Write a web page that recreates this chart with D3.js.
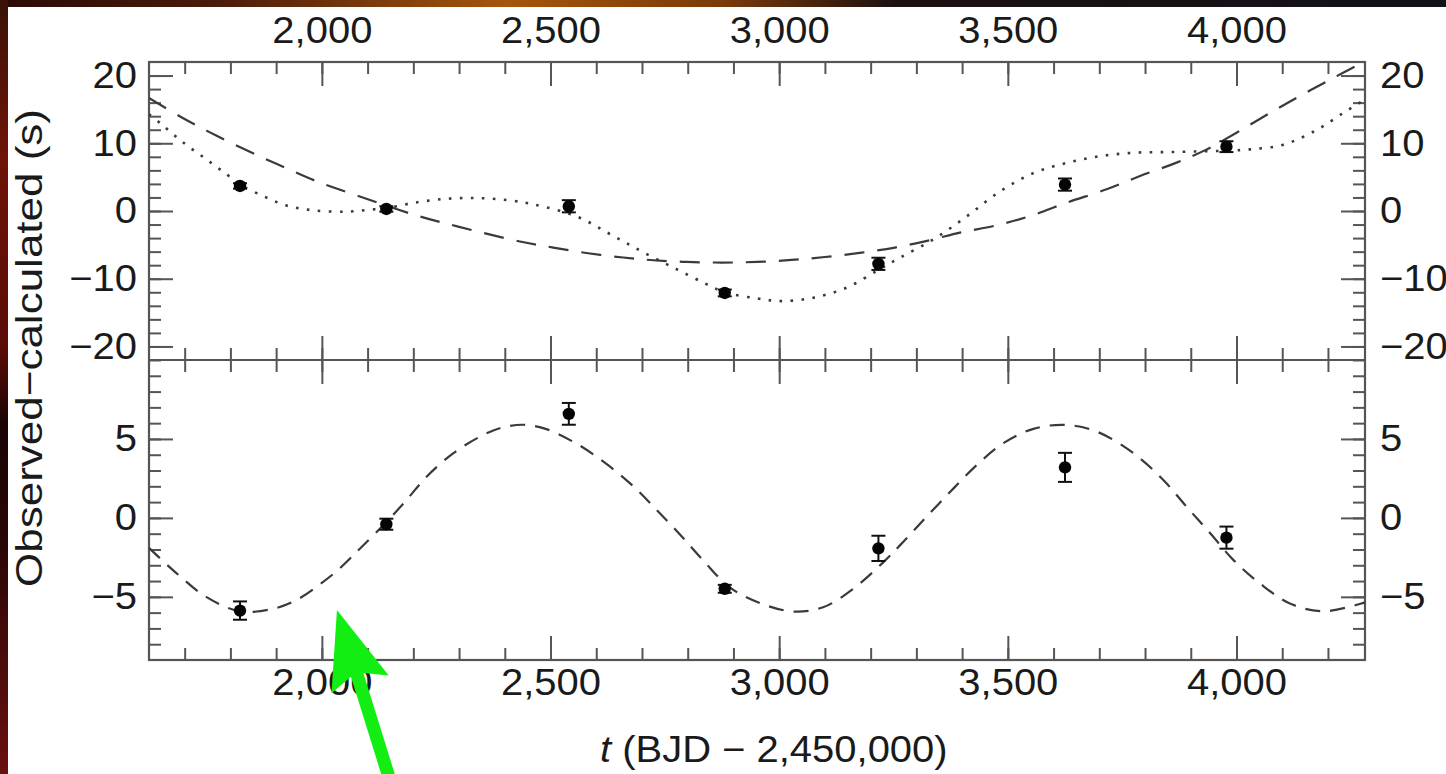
<!DOCTYPE html>
<meta charset="utf-8">
<style>
body { margin: 0; background: #fff; }
svg { display: block; font-family: "Liberation Sans", Arial, Helvetica, sans-serif; }
.axis text { font-size: 37px; fill: #1a1a1a; }
.axis line { stroke: #555; stroke-width: 2; }
.axis path { display: none; }
.frame { fill: none; stroke: #555; stroke-width: 2.2; }
</style>
<svg width="1446" height="774"></svg>
<script src="https://d3js.org/d3.v7.min.js"></script>
<script>

// ---- data ----
// epochs of the seven observed transits (BJD - 2,450,000)
var obsT = [1821, 2141, 2540, 2881, 3217, 3625, 3978];

// upper panel: O-C with linear ephemeris (s)
var topOC  = [3.7, 0.3, 0.7, -12.1, -7.8, 3.9, 9.5];
var topErr = [0.4, 0.4, 0.9, 0.5, 0.9, 0.9, 0.8];

// lower panel: residuals after removing the long trend (s)
var botOC  = [-5.87, -0.4, 6.59, -4.49, -1.93, 3.2, -1.25];
var botErr = [0.58, 0.35, 0.69, 0.25, 0.8, 0.92, 0.7];

// upper panel dashed model
var dashT = [1622, 1689, 1770, 1857, 1923, 1988, 2076, 2211, 2298, 2433, 2506, 2582, 2659, 2725, 2798, 2874,
             2951, 3027, 3100, 3180, 3253, 3330, 3395, 3476, 3549, 3629, 3716, 3789, 3869, 3935, 4001, 4074,
             4139, 4205, 4270, 4281];
var dashV = [16.7, 14.0, 11.1, 8.3, 6.3, 4.4, 2.3, -0.74, -2.3, -4.5, -5.4, -6.24, -6.87, -7.27, -7.52, -7.61,
             -7.52, -7.23, -6.79, -6.15, -5.4, -4.3, -3.2, -2.1, -0.74, 1.24, 3.2, 5.16, 7.14, 9.1, 11.6, 14.5,
             17.0, 19.4, 21.7, 22.0];

// upper panel dotted model
var dotT = [1622, 1653, 1697, 1748, 1792, 1821, 1872, 1923, 1981, 2054, 2105, 2141, 2200, 2273, 2346, 2418,
            2462, 2557, 2630, 2703, 2776, 2841, 2881, 2951, 3005, 3075, 3148, 3217, 3264, 3337, 3410, 3483,
            3556, 3629, 3702, 3775, 3848, 3920, 3980, 4030, 4103, 4176, 4234, 4274, 4281];
var dotV = [14.3, 12.6, 10.1, 7.6, 5.4, 3.9, 2.2, 0.8, 0.1, -0.1, 0.2, 0.4, 1.2, 1.8, 1.9, 1.5,
            1.0, -0.8, -3.4, -6.1, -8.6, -10.8, -12.0, -12.9, -13.3, -12.8, -11.3, -8.7, -6.9, -4.2, -0.8, 2.9,
            5.6, 7.1, 8.1, 8.6, 8.7, 8.8, 8.9, 9.1, 9.8, 12.0, 14.5, 16.2, 16.6];

// lower panel dashed model
var sineT = [1622, 1675, 1748, 1821, 1893, 1945, 1996, 2039, 2083, 2138, 2185, 2229, 2287, 2346, 2389, 2440,
             2491, 2557, 2623, 2681, 2732, 2783, 2834, 2892, 2958, 3031, 3096, 3162, 3228, 3264, 3315, 3374,
             3432, 3490, 3556, 3625, 3694, 3775, 3840, 3891, 3943, 3994, 4052, 4118, 4190, 4271, 4281];
var sineV = [-1.9, -3.32, -5.02, -5.91, -5.76, -5.19, -4.2, -3.2, -1.95, -0.36, 1.13, 2.61, 4.09, 5.15, 5.68, 5.9,
             5.62, 4.7, 3.4, 2.0, 0.5, -1.05, -2.7, -4.4, -5.4, -5.93, -5.66, -4.49, -2.80, -1.74, -0.15, 1.65,
             3.35, 4.73, 5.64, 5.89, 5.47, 4.09, 2.40, 0.70, -0.99, -2.69, -4.17, -5.44, -5.91, -5.44, -5.35];

var xMajor = [2000, 2500, 3000, 3500, 4000];
var topMajor = [-20, -10, 0, 10, 20];
var botMajor = [-5, 0, 5];

// ---- layout ----
var svg = d3.select("svg"),
    W = +svg.attr("width"), H = +svg.attr("height"),
    pLeft = 149, pRight = 1365, pTop = 62, pMid = 360, pBottom = 660;

var defs = svg.append("defs");
var gTop = defs.append("linearGradient").attr("id", "bandTop");
[["0%", "#2a0a06"], ["15%", "#4a1a0a"], ["35%", "#a5560c"], ["50%", "#7a3a08"], ["62%", "#1c1010"], ["100%", "#12121a"]]
  .forEach(function(s) { gTop.append("stop").attr("offset", s[0]).attr("stop-color", s[1]); });
var gLeft = defs.append("linearGradient").attr("id", "bandLeft").attr("x1", 0).attr("y1", 0).attr("x2", 0).attr("y2", 1);
[["0%", "#3a1206"], ["20%", "#6e1408"], ["45%", "#5a0c06"], ["55%", "#1a0404"], ["70%", "#2a0606"], ["100%", "#6a1010"]]
  .forEach(function(s) { gLeft.append("stop").attr("offset", s[0]).attr("stop-color", s[1]); });

svg.append("rect").attr("width", W).attr("height", 7).attr("fill", "url(#bandTop)");
svg.append("rect").attr("width", 8).attr("height", H).attr("fill", "url(#bandLeft)");
svg.append("rect").attr("x", 8).attr("y", 7).attr("width", W - 8).attr("height", H - 7).attr("fill", "#fff");

defs.append("clipPath").attr("id", "clipTop").append("rect")
    .attr("x", pLeft).attr("y", pTop).attr("width", pRight - pLeft).attr("height", pMid - pTop);
defs.append("clipPath").attr("id", "clipBot").append("rect")
    .attr("x", pLeft).attr("y", pMid).attr("width", pRight - pLeft).attr("height", pBottom - pMid);

var x = d3.scaleLinear().domain([1622, 4281]).range([pLeft, pRight]);
var yTop = d3.scaleLinear().domain([-22, 22]).range([pMid, pTop]);
var yBot = d3.scaleLinear().domain([-9, 10]).range([pBottom, pMid]);

function stretch(sel, f) {
  sel.each(function() {
    var w = this.getComputedTextLength();
    d3.select(this).attr("textLength", w * f).attr("lengthAdjust", "spacingAndGlyphs");
  });
}

function axis(gen, scale, tx, ty, values, size, pad, labels) {
  var a = gen(scale).tickValues(values).tickSizeInner(-size).tickSizeOuter(0).tickPadding(pad)
      .tickFormat(labels ? d3.format(",") : function() { return ""; });
  var g = svg.append("g").attr("class", "axis")
      .attr("transform", "translate(" + tx + "," + ty + ")").call(a);
  g.attr("font-family", null).attr("font-size", null);
  if (labels) stretch(g.selectAll("text"), 1.08);
  return g;
}

var xMinor = d3.range(1700, 4300, 100);
// upper panel frame ticks
axis(d3.axisTop, x, 0, pTop, xMinor, 12, 0, false);
axis(d3.axisTop, x, 0, pTop, xMajor, 24, 19, true);
axis(d3.axisBottom, x, 0, pMid, xMinor, 12, 0, false);
axis(d3.axisBottom, x, 0, pMid, xMajor, 24, 0, false);
axis(d3.axisLeft, yTop, pLeft, 0, d3.range(-20, 22, 2), 12, 0, false);
axis(d3.axisLeft, yTop, pLeft, 0, topMajor, 24, 12, true);
axis(d3.axisRight, yTop, pRight, 0, d3.range(-20, 22, 2), 12, 0, false);
axis(d3.axisRight, yTop, pRight, 0, topMajor, 24, 15, true);
// lower panel frame ticks
axis(d3.axisTop, x, 0, pMid, xMinor, 12, 0, false);
axis(d3.axisTop, x, 0, pMid, xMajor, 24, 0, false);
axis(d3.axisBottom, x, 0, pBottom, xMinor, 12, 0, false);
axis(d3.axisBottom, x, 0, pBottom, xMajor, 24, 9, true);
axis(d3.axisLeft, yBot, pLeft, 0, d3.range(-8, 11, 1), 12, 0, false);
axis(d3.axisLeft, yBot, pLeft, 0, botMajor, 24, 12, true);
axis(d3.axisRight, yBot, pRight, 0, d3.range(-8, 11, 1), 12, 0, false);
axis(d3.axisRight, yBot, pRight, 0, botMajor, 24, 15, true);

svg.append("rect").attr("class", "frame")
    .attr("x", pLeft).attr("y", pTop).attr("width", pRight - pLeft).attr("height", pBottom - pTop);
svg.append("line").attr("class", "frame")
    .attr("x1", pLeft).attr("x2", pRight).attr("y1", pMid).attr("y2", pMid);

// ---- model curves ----
function curve(ts, vs, ys, clip, dash, width) {
  var line = d3.line()
      .x(function(d) { return x(d[0]); })
      .y(function(d) { return ys(d[1]); })
      .curve(d3.curveCatmullRom.alpha(0.5));
  svg.append("path")
      .datum(d3.zip(ts, vs))
      .attr("clip-path", "url(#" + clip + ")")
      .attr("fill", "none")
      .attr("stroke", "#3a3a3a")
      .attr("stroke-width", width)
      .attr("stroke-dasharray", dash)
      .attr("d", line);
}
curve(dashT, dashV, yTop, "clipTop", "20 13", 2.2);
curve(dotT, dotV, yTop, "clipTop", "2.6 8.4", 2.6);
curve(sineT, sineV, yBot, "clipBot", "15 10", 2.2);

// ---- observed points with error bars ----
function points(vals, errs, ys) {
  var data = d3.zip(obsT, vals, errs);
  var g = svg.append("g").selectAll("g").data(data).enter().append("g");
  g.append("line")
      .attr("x1", function(d) { return x(d[0]); }).attr("x2", function(d) { return x(d[0]); })
      .attr("y1", function(d) { return ys(d[1] - d[2]); }).attr("y2", function(d) { return ys(d[1] + d[2]); });
  [-1, 1].forEach(function(s) {
    g.append("line")
        .attr("x1", function(d) { return x(d[0]) - 7; }).attr("x2", function(d) { return x(d[0]) + 7; })
        .attr("y1", function(d) { return ys(d[1] + s * d[2]); }).attr("y2", function(d) { return ys(d[1] + s * d[2]); });
  });
  g.selectAll("line").attr("stroke", "#111").attr("stroke-width", 2);
  g.append("circle")
      .attr("cx", function(d) { return x(d[0]); })
      .attr("cy", function(d) { return ys(d[1]); })
      .attr("r", 6.2)
      .attr("fill", "#050505");
}
points(topOC, topErr, yTop);
points(botOC, botErr, yBot);

// ---- axis titles ----
var xt = svg.append("text")
    .attr("x", 600).attr("y", 762)
    .attr("font-size", 37).attr("fill", "#1a1a1a");
xt.append("tspan").attr("font-style", "italic").text("t");
xt.append("tspan").text(" (BJD \u2212 2,450,000)");
stretch(xt, 1.08);

svg.append("text")
    .attr("transform", "translate(42,348) rotate(-90)")
    .attr("text-anchor", "middle")
    .attr("font-size", 37).attr("fill", "#1a1a1a")
    .attr("textLength", 478).attr("lengthAdjust", "spacingAndGlyphs")
    .text("Observed\u2212calculated (s)");

// ---- green annotation arrow pointing at the lower-panel curve ----
var tip = [x(2033), yBot(-5.83)],
    ang = Math.atan2(164, 51),
    ux = Math.cos(ang), uy = Math.sin(ang), nx = -uy, ny = ux,
    headLen = 78, headHalf = 30, shaftHalf = 6.5, total = 180;
function pt(a, b) { return [tip[0] + ux * a + nx * b, tip[1] + uy * a + ny * b]; }
svg.append("path")
    .attr("fill", "#12ee12")
    .attr("d", d3.line()([pt(0, 0), pt(headLen, headHalf), pt(headLen - 10, shaftHalf), pt(total, shaftHalf),
                          pt(total, -shaftHalf), pt(headLen - 10, -shaftHalf), pt(headLen, -headHalf)]) + "Z");

</script>
